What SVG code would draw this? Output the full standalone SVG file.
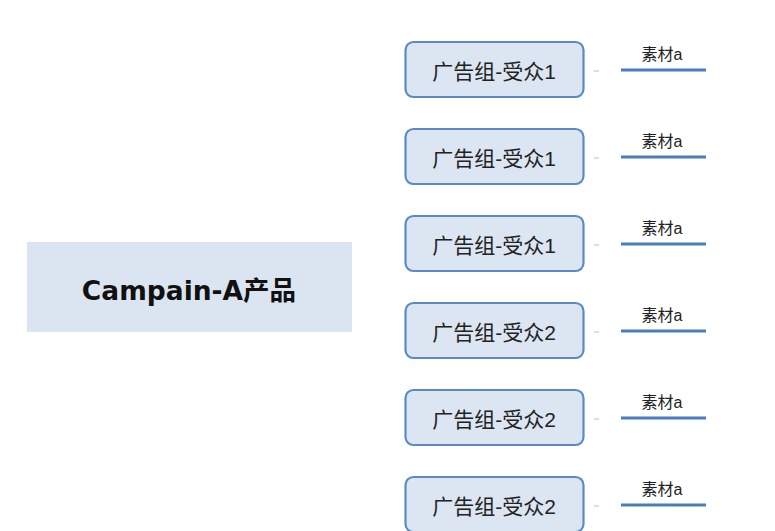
<svg xmlns="http://www.w3.org/2000/svg" width="775" height="531" viewBox="0 0 775 531">
<style>
.root{fill:#dbe5f1;}
.rt{font-family:"DejaVu Sans","Noto Sans CJK SC",sans-serif;font-weight:bold;font-size:26.5px;fill:#111;}
.grp{fill:#dce6f2;stroke:#5a8bc6;stroke-width:2.2;}
.gt{font-family:"Liberation Sans","Noto Sans CJK SC",sans-serif;font-size:21px;fill:#222;}
.dash{stroke:#c8c8c8;stroke-width:1.2;}
.ul{stroke:#4a7dbd;stroke-width:3;}
.mt{font-family:"Liberation Sans","Noto Sans CJK SC",sans-serif;font-size:16px;fill:#222;}
</style>
<rect width="775" height="531" fill="#ffffff"/>
<g id="root">
<rect class="root" x="27" y="242" width="325" height="90"/>
<text class="rt" x="189" y="300" text-anchor="middle">Campain-A产品</text>
</g>
<g id="g1"><rect class="grp" x="405.5" y="42" width="178" height="55" rx="8"/><text class="gt" x="494" y="79" text-anchor="middle">广告组-受众1</text></g>
<g id="g2"><rect class="grp" x="405.5" y="129" width="178" height="55" rx="8"/><text class="gt" x="494" y="166" text-anchor="middle">广告组-受众1</text></g>
<g id="g3"><rect class="grp" x="405.5" y="216" width="178" height="55" rx="8"/><text class="gt" x="494" y="253" text-anchor="middle">广告组-受众1</text></g>
<g id="g4"><rect class="grp" x="405.5" y="303" width="178" height="55" rx="8"/><text class="gt" x="494" y="340" text-anchor="middle">广告组-受众2</text></g>
<g id="g5"><rect class="grp" x="405.5" y="390" width="178" height="55" rx="8"/><text class="gt" x="494" y="427" text-anchor="middle">广告组-受众2</text></g>
<g id="g6"><rect class="grp" x="405.5" y="477" width="178" height="55" rx="8"/><text class="gt" x="494" y="514" text-anchor="middle">广告组-受众2</text></g>
<g id="m1"><line class="ul" x1="621" y1="70" x2="706" y2="70"/><text class="mt" x="662" y="60" text-anchor="middle">素材a</text></g>
<g id="m2"><line class="ul" x1="621" y1="157" x2="706" y2="157"/><text class="mt" x="662" y="147" text-anchor="middle">素材a</text></g>
<g id="m3"><line class="ul" x1="621" y1="244" x2="706" y2="244"/><text class="mt" x="662" y="234" text-anchor="middle">素材a</text></g>
<g id="m4"><line class="ul" x1="621" y1="331" x2="706" y2="331"/><text class="mt" x="662" y="321" text-anchor="middle">素材a</text></g>
<g id="m5"><line class="ul" x1="621" y1="418" x2="706" y2="418"/><text class="mt" x="662" y="408" text-anchor="middle">素材a</text></g>
<g id="m6"><line class="ul" x1="621" y1="505" x2="706" y2="505"/><text class="mt" x="662" y="495" text-anchor="middle">素材a</text></g>
<g id="connectors">
<line class="dash" x1="594" y1="71" x2="599" y2="71"/>
<line class="dash" x1="594" y1="158" x2="599" y2="158"/>
<line class="dash" x1="594" y1="245" x2="599" y2="245"/>
<line class="dash" x1="594" y1="332" x2="599" y2="332"/>
<line class="dash" x1="594" y1="419" x2="599" y2="419"/>
<line class="dash" x1="594" y1="506" x2="599" y2="506"/>
</g>
</svg>
